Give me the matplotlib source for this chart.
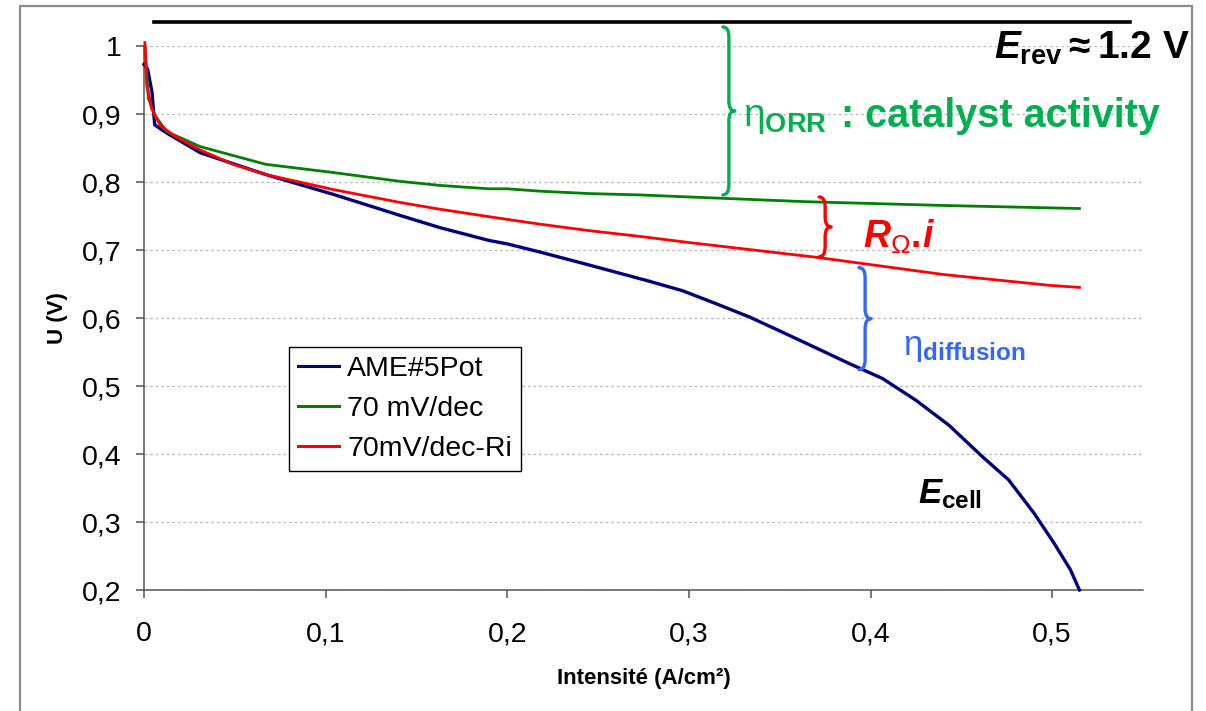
import matplotlib
matplotlib.use('Agg')
import matplotlib.pyplot as plt
from matplotlib.path import Path
from matplotlib.patches import PathPatch, Rectangle
from matplotlib.transforms import IdentityTransform

plt.rcParams['font.family'] = ['Liberation Sans', 'DejaVu Sans']
plt.rcParams['mathtext.fontset'] = 'custom'
plt.rcParams['mathtext.rm'] = 'Liberation Sans'
plt.rcParams['mathtext.it'] = 'Liberation Sans:italic:bold'
plt.rcParams['mathtext.bf'] = 'Liberation Sans:bold'

# ---------------- data ----------------
x_pot = [0.0, 0.002, 0.0044, 0.0059, 0.0125, 0.031, 0.067, 0.104, 0.1408, 0.1628,
         0.19, 0.20, 0.218, 0.245, 0.2783, 0.2966, 0.315, 0.3333, 0.3516, 0.370,
         0.3883, 0.4066, 0.425, 0.4433, 0.4616, 0.476, 0.490, 0.501, 0.510, 0.515]
u_pot = [0.973, 0.966, 0.932, 0.884, 0.872, 0.843, 0.811, 0.782, 0.751, 0.733,
         0.714, 0.709, 0.697, 0.678, 0.654, 0.640, 0.621, 0.6015, 0.579, 0.556,
         0.533, 0.511, 0.479, 0.442, 0.396, 0.362, 0.313, 0.269, 0.230, 0.200]

x_tafel = [0.0005, 0.0024, 0.0060, 0.0125, 0.031, 0.067, 0.104, 0.1408, 0.1628, 0.19,
           0.20, 0.218, 0.245, 0.273, 0.30, 0.365, 0.44, 0.515]
u_tafel = [1.000, 0.923, 0.898, 0.874, 0.852, 0.826, 0.814, 0.801, 0.795, 0.790,
           0.790, 0.7865, 0.783, 0.781, 0.778, 0.771, 0.7655, 0.761]

x_tafel_ri = [0.0005, 0.0015, 0.0042, 0.0088, 0.016, 0.031, 0.049, 0.067, 0.104, 0.1408,
              0.1628, 0.19, 0.20, 0.218, 0.245, 0.273, 0.30, 0.371, 0.44, 0.4986, 0.515]
u_tafel_ri = [1.005, 0.942, 0.908, 0.884, 0.869, 0.847, 0.826, 0.811, 0.789, 0.770,
              0.760, 0.749, 0.745, 0.738, 0.7285, 0.720, 0.711, 0.689, 0.664, 0.648, 0.645]

series_labels = ['AME#5Pot', '70 mV/dec', '70mV/dec-Ri']
x_ticks = [0, 0.1, 0.2, 0.3, 0.4, 0.5]
x_tick_labels = ['0', '0,1', '0,2', '0,3', '0,4', '0,5']
y_ticks = [0.2, 0.3, 0.4, 0.5, 0.6, 0.7, 0.8, 0.9, 1.0]
y_tick_labels = ['0,2', '0,3', '0,4', '0,5', '0,6', '0,7', '0,8', '0,9', '1']
x_label = 'Intensité (A/cm²)'
y_label = 'U (V)'

erev_line_x = [0.0055, 0.543]
erev_line_y = [1.035, 1.035]

# ---------------- figure ----------------
fig = plt.figure(figsize=(12.06, 7.11), dpi=100)
fig.patch.set_facecolor('white')
ax = fig.add_axes([144 / 1206, 121 / 711, 999 / 1206, 544 / 711])

# outer frame (like an exported Excel chart area)
fig.add_artist(Rectangle((20 / 1206, -0.02), 1172 / 1206, 1 - 6 / 711 + 0.02,
                         transform=fig.transFigure, fill=False,
                         edgecolor='#8c8c8c', linewidth=1.6))

ax.set_xlim(0, 0.55)
ax.set_ylim(0.2, 1.0)

c_blue, c_green, c_red = '#000080', '#008000', '#ff0000'
ax.plot(x_pot, u_pot, color=c_blue, lw=2.4, label=series_labels[0], clip_on=False, zorder=3)
ax.plot(x_tafel, u_tafel, color=c_green, lw=2.0, label=series_labels[1], clip_on=False, zorder=3)
ax.plot(x_tafel_ri, u_tafel_ri, color=c_red, lw=2.0, label=series_labels[2], clip_on=False, zorder=4)

# axes styling
for s in ['top', 'right']:
    ax.spines[s].set_visible(False)
for s in ['left', 'bottom']:
    ax.spines[s].set_color('#555555')
    ax.spines[s].set_linewidth(1.1)

ax.set_xticks(x_ticks, labels=x_tick_labels)
ax.set_yticks(y_ticks, labels=y_tick_labels)
ax.tick_params(axis='both', direction='out', length=6, width=1.1, color='#555555',
               labelsize=20.5, labelcolor='black')
ax.tick_params(axis='x', pad=16.5)
ax.tick_params(axis='y', pad=10)
ax.yaxis.grid(True, linestyle=(0, (2, 2)), color='#bdbdbd', linewidth=1.0)
ax.set_axisbelow(True)

ax.set_xlabel(x_label, fontsize=16, fontweight='bold')
ax.xaxis.set_label_coords(0.5, -0.143)
ax.set_ylabel(y_label, fontsize=16, fontweight='bold')
ax.yaxis.set_label_coords(-0.076, 0.5)

leg = ax.legend(loc='upper left', bbox_to_anchor=(289 / 1206, 1 - 347 / 711),
                bbox_transform=fig.transFigure, borderaxespad=0, fontsize=20.5,
                frameon=True, fancybox=False, edgecolor='black', framealpha=1,
                handlelength=1.45, handletextpad=0.3, labelspacing=0.5,
                borderpad=0.3)
leg.get_frame().set_linewidth(1.0)
for h in leg.get_lines():
    h.set_linewidth(2.2)

# E_rev reference line
ax.plot(erev_line_x, erev_line_y, color='black', lw=2.6, clip_on=False)


def brace(x, y0, y1, color, a=6, r=10, lw=2.4):
    X, Yb = ax.transData.transform((x, y0))
    _, Yt = ax.transData.transform((x, y1))
    Ym = (Yb + Yt) / 2
    verts = [(X - a, Yt), (X, Yt), (X, Yt - r), (X, Ym + r), (X, Ym), (X + a, Ym),
             (X, Ym), (X, Ym - r), (X, Yb + r), (X, Yb), (X - a, Yb)]
    codes = [Path.MOVETO, Path.CURVE3, Path.CURVE3, Path.LINETO, Path.CURVE3, Path.CURVE3,
             Path.CURVE3, Path.CURVE3, Path.LINETO, Path.CURVE3, Path.CURVE3]
    fig.add_artist(PathPatch(Path(verts, codes), transform=IdentityTransform(),
                             facecolor='none', edgecolor=color, lw=lw,
                             capstyle='round', joinstyle='round', zorder=5))


c_orr, c_ohm, c_diff = '#00b050', '#ff0000', '#3366ff'
brace(0.322, 0.781, 1.028, c_orr)
brace(0.375, 0.690, 0.778, c_ohm)
brace(0.397, 0.524, 0.674, c_diff)

ax.text(0.468, 0.982, r'$\mathit{E}_{\mathbf{rev}}\mathbf{\approx 1.2\ V}$',
        fontsize=28, color='black', ha='left', va='baseline', clip_on=False)
ax.text(0.330, 0.882, r'$\mathrm{η}_{\mathbf{ORR}}$', fontsize=28, color=c_orr,
        ha='left', va='baseline', clip_on=False)
ax.text(0.384, 0.881, ': catalyst activity', fontsize=28.5, fontweight='bold',
        color=c_orr, ha='left', va='baseline', clip_on=False)
ax.text(0.396, 0.704, r'$\mathit{R}_{\mathrm{Ω}}\mathbf{.}\!\mathit{i}$', fontsize=27,
        color=c_ohm, ha='left', va='baseline', clip_on=False)
ax.text(0.418, 0.545, r'$\mathrm{η}_{\mathbf{diffusion}}$', fontsize=25,
        color=c_diff, ha='left', va='baseline', clip_on=False)
ax.text(0.426, 0.328, r'$\mathit{E}_{\mathbf{cell}}$', fontsize=25, color='black',
        ha='left', va='baseline', clip_on=False)

fig.savefig('out.png', dpi=100)
